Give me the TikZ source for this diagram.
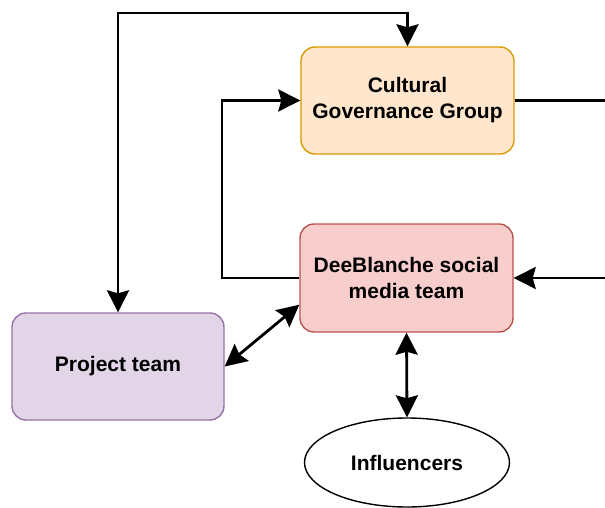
\documentclass[tikz,border=0pt]{standalone}
\usepackage{fontspec}
\setmainfont{Liberation Sans}
\usetikzlibrary{arrows.meta,shapes.geometric}

\definecolor{orgfill}{HTML}{FFE6CC}
\definecolor{orgline}{HTML}{D79B00}
\definecolor{redfill}{HTML}{F8CECC}
\definecolor{redline}{HTML}{B85450}
\definecolor{purfill}{HTML}{E1D5E7}
\definecolor{purline}{HTML}{9673A6}

\begin{document}
\begin{tikzpicture}[
  x=1pt, y=-1pt,
  box/.style={rectangle,rounded corners=14pt,line width=1.4pt,
    minimum width=213pt,minimum height=107pt,align=center,
    font=\fontsize{21}{26}\selectfont\bfseries},
  oval/.style={ellipse,draw=black,line width=1.4pt,fill=white,
    minimum width=205pt,minimum height=89pt,
    font=\fontsize{21}{26}\selectfont\bfseries},
  link/.style={line width=2.8pt},
  arr/.style={link,-{Stealth[length=22pt,width=22pt,inset=3pt]}},
  dbl/.style={link,{Stealth[length=22pt,width=22pt,inset=3pt]}-{Stealth[length=22pt,width=22pt,inset=3pt]}}
]
\useasboundingbox (0,0) rectangle (605,508);

% ---- boxes ----
\node[box,fill=orgfill,draw=orgline] (cgg) at (407.5,100.5)
  {Cultural\\Governance Group};
\node[box,fill=redfill,draw=redline,minimum height=108pt] (dee) at (406.5,278)
  {DeeBlanche social\\media team};
\node[box,fill=purfill,draw=purline,minimum width=212pt] (proj) at (118,366.5)
  {Project team};
\node[oval] (infl) at (407,462.5) {Influencers};

% ---- bend points and loose ends ----
\coordinate (ctop) at (0,13);
\coordinate (lloop) at (222,0);
\coordinate (cout) at (605,100.5);
\coordinate (din) at (605,278);

% ---- connectors ----
\draw[dbl] (proj.north) -- (proj.north |- ctop) -| (cgg.north);
\draw[arr] (dee.west) -- (dee.west -| lloop) |- (cgg.west);
\draw[link] (cgg.east) -- (cout);
\draw[arr] (din) -- (dee.east);
\draw[dbl] (proj.east) -- (dee.194);
\draw[dbl] (dee.south) -- (infl.north);

\end{tikzpicture}
\end{document}
